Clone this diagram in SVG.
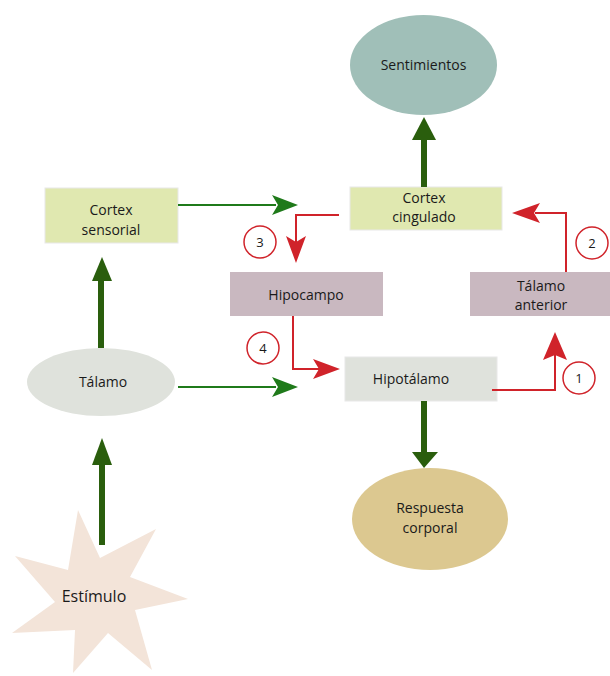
<svg xmlns="http://www.w3.org/2000/svg" width="610" height="676" viewBox="0 0 610 676">
<style>
text{font-family:"Open Sans","Liberation Sans",sans-serif;font-size:14px;fill:#1a1a1a;text-anchor:middle}
.thick{stroke:#2a5e0d;stroke-width:6;fill:none}
.thin{stroke:#1f7a1a;stroke-width:2;fill:none}
.red{stroke:#d0232a;stroke-width:2;fill:none}
.hg{fill:#2a5e0d}
.ht{fill:#1f7a1a}
.hr{fill:#d0232a}
.num{fill:#fff;stroke:#d0232a;stroke-width:1.5}
.box{stroke:#e8e8e8;stroke-width:1}
</style>
<rect width="610" height="676" fill="#fff"/>
<g id="sentimientos">
<ellipse cx="423.5" cy="65" rx="73.5" ry="50" fill="#a0bfb8"/>
<text x="423.5" y="70">Sentimientos</text>
</g>
<g id="cortex-cingulado">
<rect class="box" x="350" y="187" width="152" height="43" fill="#e0e8b0"/>
<text x="424" y="203">Cortex</text>
<text x="424" y="222">cingulado</text>
</g>
<g id="cortex-sensorial">
<rect class="box" x="45" y="188" width="133" height="55" fill="#e0e8b0"/>
<text x="111" y="215">Cortex</text>
<text x="111" y="235">sensorial</text>
</g>
<g id="hipocampo">
<rect x="230" y="272" width="153" height="44" fill="#c9b8c0"/>
<text x="306" y="300">Hipocampo</text>
</g>
<g id="talamo-anterior">
<rect x="470" y="272" width="140" height="44" fill="#c9b8c0"/>
<text x="541" y="291">Tálamo</text>
<text x="541" y="310">anterior</text>
</g>
<g id="talamo">
<ellipse cx="101" cy="382" rx="74" ry="34" fill="#dfe2dc"/>
<text x="103" y="387">Tálamo</text>
</g>
<g id="hipotalamo">
<rect class="box" x="345" y="357" width="152" height="44" fill="#dfe2dc"/>
<text x="411" y="384">Hipotálamo</text>
</g>
<g id="respuesta-corporal">
<ellipse cx="430" cy="519" rx="78" ry="51" fill="#dcc890"/>
<text x="430" y="513">Respuesta</text>
<text x="430" y="533">corporal</text>
</g>
<g id="estimulo">
<polygon points="78,510 100,558 156,529 130,577 188,599 135,610 152,670 108,633 73,673 75,630 12,633 55,602 15,556 68,570" fill="#f3e4d9"/>
<text x="94" y="602" style="font-size:16px">Estímulo</text>
</g>
<g id="connectors">
<line class="thick" x1="424" y1="187" x2="424" y2="138"/>
<polygon class="hg" points="424,117 412,140 436,140"/>
<line class="thick" x1="424" y1="401" x2="424" y2="455"/>
<polygon class="hg" points="424,468 412,452 438,452"/>
<line class="thick" x1="101" y1="348" x2="101" y2="278"/>
<polygon class="hg" points="102,257 92,281 112,281"/>
<line class="thick" x1="102" y1="545" x2="102" y2="462"/>
<polygon class="hg" points="102,438 92,465 112,465"/>
<line class="thin" x1="178" y1="205" x2="276" y2="205"/>
<polygon class="ht" points="298,205 272,195 278,205 272,215"/>
<line class="thin" x1="178" y1="387" x2="276" y2="387"/>
<polygon class="ht" points="298,387 272,377 278,387 272,397"/>
<polyline class="red" points="339,215 296,215 296,242"/>
<polygon class="hr" points="296,263 286,236 296,242 306,236"/>
<polyline class="red" points="566,272 566,213 535,213"/>
<polygon class="hr" points="512,213 540,203 534,213 540,223"/>
<polyline class="red" points="293,316 293,369 320,369"/>
<polygon class="hr" points="340,369 313,359 319,369 313,379"/>
<polyline class="red" points="492,390 555,390 555,355"/>
<polygon class="hr" points="555,332 543,360 555,355 567,360"/>
<circle class="num" cx="260" cy="242" r="16"/>
<text x="260" y="247" style="font-size:13px">3</text>
<circle class="num" cx="592" cy="243" r="16"/>
<text x="592" y="248" style="font-size:13px">2</text>
<circle class="num" cx="263" cy="348" r="16"/>
<text x="263" y="353" style="font-size:13px">4</text>
<circle class="num" cx="579" cy="378" r="16"/>
<text x="579" y="383" style="font-size:13px">1</text>
</g>
</svg>
